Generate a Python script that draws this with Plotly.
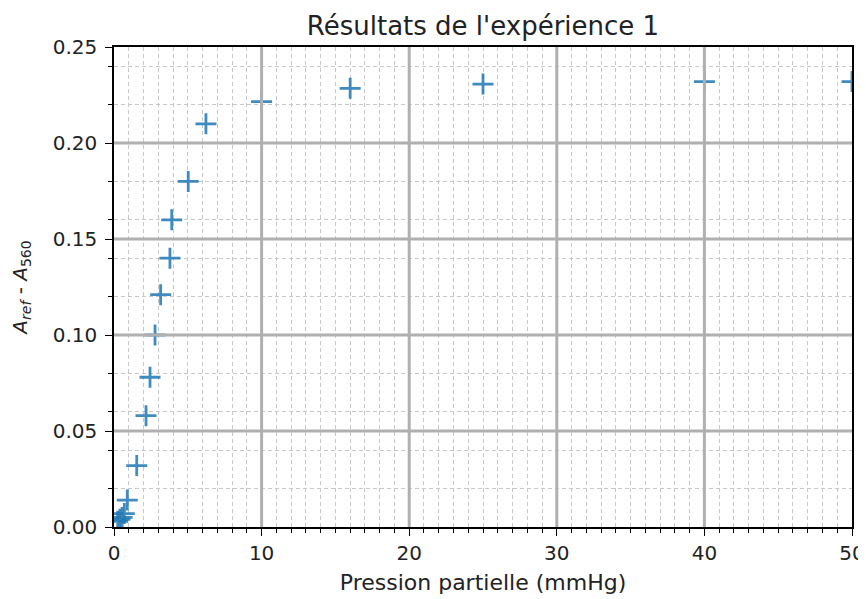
import plotly.graph_objects as go

# Data
pression = [0.25, 0.4, 0.55, 0.7, 0.9, 1.54, 2.17, 2.44, 2.78, 3.16, 3.79, 3.91, 5.03, 6.23, 10, 16, 25, 40, 50]
absorbance = [0.003, 0.004, 0.005, 0.007, 0.014, 0.032, 0.058, 0.078, 0.100, 0.121, 0.140, 0.160, 0.180, 0.210, 0.2215, 0.2285, 0.2307, 0.232, 0.232]

x_major = [0, 10, 20, 30, 40, 50]
y_major = [0.00, 0.05, 0.10, 0.15, 0.20, 0.25]
y_minor = [0.02, 0.04, 0.06, 0.08, 0.12, 0.14, 0.16, 0.18, 0.22, 0.24]

FONT = "DejaVu Sans"
GRID = "#b0b0b0"
MINOR = "#c8c8c8"

fig = go.Figure()
fig.add_trace(go.Scatter(
    x=pression, y=absorbance, mode="markers",
    marker=dict(symbol="cross-thin", size=15,
                line=dict(width=2.8, color="rgba(31,119,180,0.85)")),
    showlegend=False, cliponaxis=True,
))

# major gridlines drawn above the markers (as in the reference)
shapes = []
for v in x_major[1:-1]:
    shapes.append(dict(type="line", xref="x", yref="paper", x0=v, x1=v, y0=0, y1=1,
                       line=dict(color=GRID, width=3), layer="above"))
for v in y_major[1:-1]:
    shapes.append(dict(type="line", xref="paper", yref="y", x0=0, x1=1, y0=v, y1=v,
                       line=dict(color=GRID, width=3), layer="above"))

fig.update_layout(
    width=858, height=591,
    margin=dict(l=106, r=14, t=39, b=72),
    paper_bgcolor="white", plot_bgcolor="white",
    font=dict(family=FONT, size=20, color="#222"),
    title=dict(text="Résultats de l'expérience 1", xref="paper", x=0.5, xanchor="center",
               yref="container", y=0.970, yanchor="middle", font=dict(size=26, color="#222")),
    shapes=shapes,
    xaxis=dict(
        range=[0, 50], tickmode="linear", tick0=0, dtick=10,
        showgrid=False, zeroline=False, automargin=False,
        showline=True, linecolor="black", linewidth=1.5, mirror=True,
        ticks="outside", ticklen=7, tickwidth=1.3, tickcolor="black",
        minor=dict(dtick=1, tick0=0, ticks="outside", ticklen=4, tickwidth=1, tickcolor="black",
                   showgrid=True, gridcolor=MINOR, gridwidth=1.2, griddash="4px,3px"),
        title=dict(text="Pression partielle (mmHg)", font=dict(size=22), standoff=11),
    ),
    yaxis=dict(
        range=[0, 0.25], tickmode="linear", tick0=0, dtick=0.05, tickformat=".2f",
        showgrid=False, zeroline=False, automargin=False, ticklabelstandoff=4,
        showline=True, linecolor="black", linewidth=1.5, mirror=True,
        ticks="outside", ticklen=7, tickwidth=1.3, tickcolor="black",
        minor=dict(tickmode="array", tickvals=y_minor, ticks="outside", ticklen=4, tickwidth=1,
                   tickcolor="black", showgrid=True, gridcolor=MINOR, gridwidth=1.2,
                   griddash="4px,3px"),
        title=dict(text="<i>A</i><sub><i>ref</i></sub> - <i>A</i><sub>560</sub>",
                   font=dict(size=20), standoff=24),
    ),
)

fig.write_html("out.html")
